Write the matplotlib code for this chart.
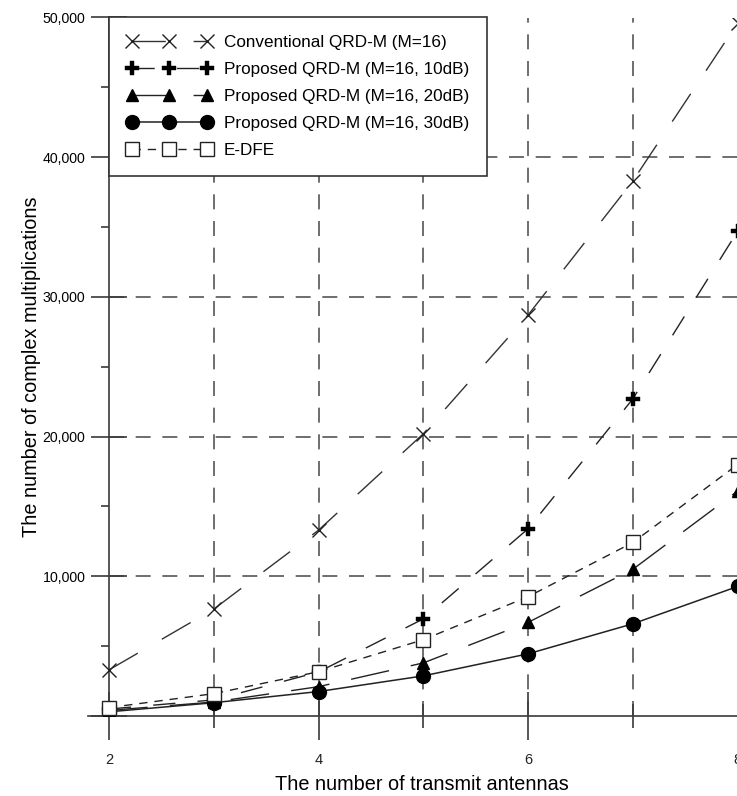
"""Complexity comparison: complex multiplications vs. number of transmit antennas."""

import matplotlib

matplotlib.use("Agg")
import matplotlib.pyplot as plt
from matplotlib.ticker import FixedLocator, FuncFormatter

# Data
antennas = [2, 3, 4, 5, 6, 7, 8]
conventional = [3300, 7650, 13300, 20200, 28700, 38300, 49600]
proposed_10db = [500, 1150, 3150, 6950, 13400, 22700, 34700]
proposed_20db = [400, 1000, 2100, 3800, 6700, 10500, 16100]
proposed_30db = [300, 950, 1750, 2870, 4450, 6600, 9270]
edfe = [600, 1600, 3170, 5460, 8540, 12420, 18000]

labels = [
    "Conventional QRD-M (M=16)",
    "Proposed QRD-M (M=16, 10dB)",
    "Proposed QRD-M (M=16, 20dB)",
    "Proposed QRD-M (M=16, 30dB)",
    "E-DFE",
]

x_major = [2, 4, 6, 8]
x_minor = [3, 5, 7]
y_major = [0, 10000, 20000, 30000, 40000, 50000]
y_minor = [5000, 15000, 25000, 35000, 45000]

AX_COLOR = "#3a3a3a"
GRID_COLOR = "#555555"

plt.rcParams["font.family"] = ["Liberation Sans", "DejaVu Sans"]

W, H = 737, 796
fig = plt.figure(figsize=(W / 100, H / 100), dpi=100)
# pixel frame: x from 88 (axis extension) to 737.6, y from 17.5 to 716
ax = fig.add_axes([88 / W, (H - 716) / H, (737.6 - 88) / W, (716 - 17.5) / H])
ax.set_xlim(1.8, 8)
ax.set_ylim(0, 50000)

# manual dashed grid, starting at the y axis
ax.hlines(y_major[1:], 2, 8, colors=GRID_COLOR, linestyles=(0, (9, 7)), linewidth=1.2, zorder=1)
ax.vlines(x_minor + x_major[1:], 0, 50000, colors=GRID_COLOR, linestyles=(0, (9, 7)),
          linewidth=1.2, zorder=1)

ax.plot(antennas, conventional, color="#333333", linewidth=1.0, dashes=(24, 20),
        marker="x", markersize=10, markeredgewidth=1.0, markeredgecolor="#222222",
        label=labels[0], zorder=3)
ax.plot(antennas, proposed_10db, color="#222222", linewidth=1.0, dashes=(16, 16),
        marker="P", markersize=10, markerfacecolor="black", markeredgecolor="black",
        markeredgewidth=0.3, label=labels[1], zorder=3)
ax.plot(antennas, proposed_20db, color="#222222", linewidth=1.0, dashes=(28, 16),
        marker="^", markersize=9, markerfacecolor="black", markeredgecolor="black",
        label=labels[2], zorder=3)
ax.plot(antennas, proposed_30db, color="#222222", linewidth=1.1, linestyle="-",
        marker="o", markersize=10, markerfacecolor="black", markeredgecolor="black",
        label=labels[3], zorder=3)
ax.plot(antennas, edfe, color="#222222", linewidth=1.0, dashes=(6, 5),
        marker="s", markersize=9.5, markerfacecolor="white", markeredgecolor="#222222",
        markeredgewidth=1.0, label=labels[4], zorder=3)

# axes frame: left spine at x=2, bottom spine running slightly past it
for side in ["top", "right"]:
    ax.spines[side].set_visible(False)
ax.spines["left"].set_position(("data", 2))
for side in ["left", "bottom"]:
    ax.spines[side].set_color(AX_COLOR)
    ax.spines[side].set_linewidth(1.2)

ax.xaxis.set_major_locator(FixedLocator(x_major))
ax.xaxis.set_minor_locator(FixedLocator(x_minor))
ax.yaxis.set_major_locator(FixedLocator(y_major))
ax.yaxis.set_minor_locator(FixedLocator(y_minor))
ax.yaxis.set_major_formatter(FuncFormatter(lambda v, p: "" if v == 0 else f"{int(v):,}"))

ax.tick_params(axis="x", which="major", direction="inout", length=34, width=1.2,
               color=AX_COLOR, labelsize=10.5, pad=10, labelcolor="#222222")
ax.tick_params(axis="x", which="minor", direction="inout", length=17, width=1.2,
               color=AX_COLOR)
ax.tick_params(axis="y", which="major", direction="inout", length=26, width=1.2,
               color=AX_COLOR, labelsize=10.2, pad=4)
ax.tick_params(axis="y", which="minor", direction="out", length=6, width=1.2,
               color=AX_COLOR)

ax.set_xlabel("The number of transmit antennas", fontsize=14.3)
ax.xaxis.set_label_coords(0.514, -0.084)
ax.set_ylabel("The number of complex multiplications", fontsize=14.3)
ax.yaxis.set_label_coords(-0.072, 0.5)

leg = ax.legend(loc="upper left", bbox_to_anchor=(0.032, 1.0005), borderaxespad=0,
                numpoints=3, handlelength=5.0, handletextpad=0.7, labelspacing=0.7,
                borderpad=1.05, fontsize=12.3, fancybox=False, framealpha=1)
leg.get_frame().set_edgecolor("#333333")
leg.get_frame().set_linewidth(1.2)
leg.set_zorder(5)

fig.savefig("out.png", dpi=100)
plt.close(fig)
